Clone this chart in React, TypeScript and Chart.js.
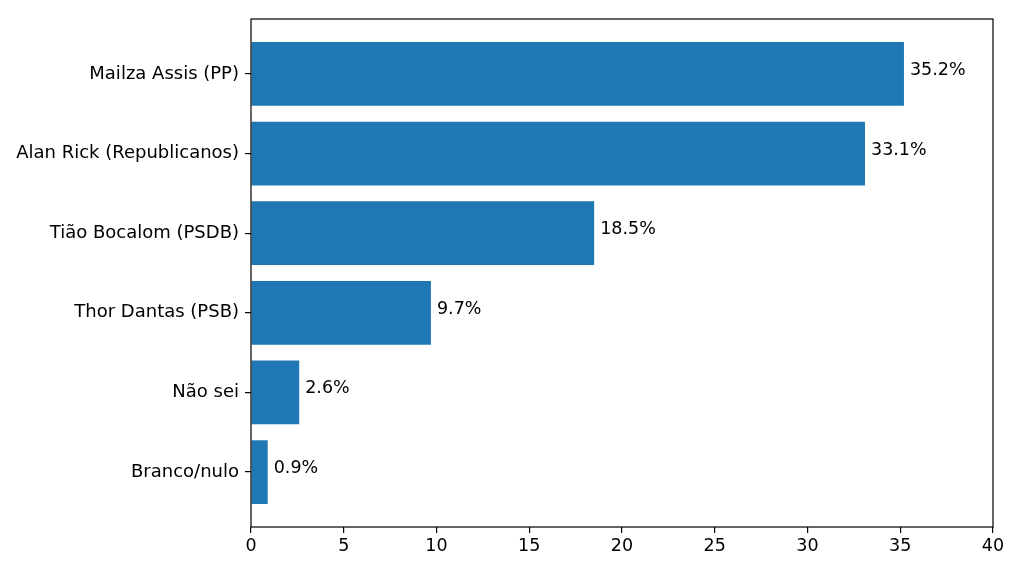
import { useEffect, useRef } from "react";
import { Chart, registerables } from "chart.js";

Chart.register(...registerables);

// poll data, top to bottom
const candidates = [
  "Mailza Assis (PP)",
  "Alan Rick (Republicanos)",
  "Tião Bocalom (PSDB)",
  "Thor Dantas (PSB)",
  "Não sei",
  "Branco/nulo",
];
const percentages = [35.2, 33.1, 18.5, 9.7, 2.6, 0.9];
const xTicks = [0, 5, 10, 15, 20, 25, 30, 35, 40];

const FONT = "'DejaVu Sans', sans-serif";

// draws the four spines like matplotlib
const frame = {
  id: "frame",
  afterDraw(chart: any) {
    const { ctx, chartArea: a } = chart;
    ctx.save();
    ctx.strokeStyle = "#000";
    ctx.lineWidth = 1.2;
    ctx.strokeRect(a.left, a.top, a.right - a.left, a.bottom - a.top);
    ctx.restore();
  },
};

// value labels at the end of each bar
const valueLabels = {
  id: "valueLabels",
  afterDatasetsDraw(chart: any) {
    const { ctx } = chart;
    const meta = chart.getDatasetMeta(0);
    ctx.save();
    ctx.fillStyle = "#000";
    ctx.font = `17.5px ${FONT}`;
    ctx.textAlign = "left";
    ctx.textBaseline = "alphabetic";
    meta.data.forEach((bar: any, i: number) => {
      ctx.fillText(percentages[i].toFixed(1) + "%", bar.x + 6, bar.y + 1);
    });
    ctx.restore();
  },
};

const App = () => {
  const canvasRef = useRef<HTMLCanvasElement | null>(null);
  const chartRef = useRef<any>(null);

  useEffect(() => {
    if (!canvasRef.current) return;
    if (chartRef.current) chartRef.current.destroy();

    chartRef.current = new Chart(canvasRef.current, {
      type: "bar",
      data: {
        datasets: [
          {
            data: percentages.map((v, i) => ({ x: v, y: i })),
            backgroundColor: "#1f77b4",
            borderWidth: 0,
            barPercentage: 1,
            categoryPercentage: 0.8,
          },
        ],
      },
      options: {
        indexAxis: "y",
        animation: false,
        responsive: false,
        devicePixelRatio: 1,
        layout: { padding: { left: 0, right: 31, top: 19, bottom: 0 } },
        plugins: {
          legend: { display: false },
          tooltip: { enabled: false },
        },
        scales: {
          x: {
            type: "linear",
            min: 0,
            max: 40,
            afterBuildTicks: (scale: any) => {
              scale.ticks = xTicks.map((v) => ({ value: v }));
            },
            afterFit: (scale: any) => {
              scale.height = 49;
            },
            grid: {
              drawOnChartArea: false,
              drawTicks: true,
              tickLength: 6,
              color: "#000",
              lineWidth: 1.2,
            },
            border: { display: false },
            ticks: {
              color: "#000",
              padding: 3,
              maxRotation: 0,
              font: { family: FONT, size: 17.5 },
            },
          },
          y: {
            type: "linear",
            reverse: true,
            offset: false,
            min: -0.69,
            max: 5.69,
            afterBuildTicks: (scale: any) => {
              scale.ticks = candidates.map((_, i) => ({ value: i }));
            },
            afterFit: (scale: any) => {
              scale.width = 251;
            },
            grid: {
              offset: false,
              drawOnChartArea: false,
              drawTicks: true,
              tickLength: 6,
              color: "#000",
              lineWidth: 1.2,
            },
            border: { display: false },
            ticks: {
              color: "#000",
              padding: 6,
              font: { family: FONT, size: 18 },
              callback: (value: any) => candidates[value] ?? "",
            },
          },
        },
      },
      plugins: [frame, valueLabels],
    } as any);

    return () => {
      if (chartRef.current) {
        chartRef.current.destroy();
        chartRef.current = null;
      }
    };
  }, []);

  return (
    <div style={{ position: "fixed", left: 0, top: 0, width: 1024, height: 576, background: "#fff" }}>
      <canvas ref={canvasRef} width={1024} height={576} style={{ width: 1024, height: 576 }} />
    </div>
  );
};

export default App;
